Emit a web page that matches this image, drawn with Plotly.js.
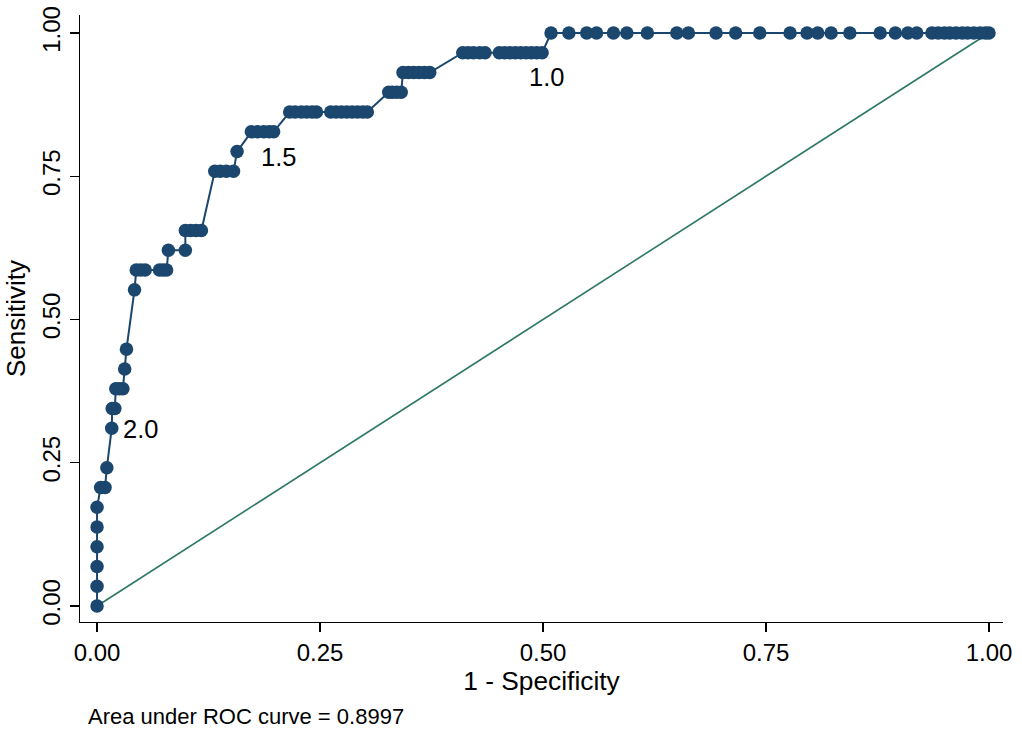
<!DOCTYPE html>
<html>
<head>
<meta charset="utf-8">
<script src="https://cdn.plot.ly/plotly-3.0.1.min.js"></script>
<style>
html,body{margin:0;padding:0;background:#fff;}
#chart{width:1022px;height:730px;}
</style>
</head>
<body>
<div id="chart"></div>
<script>
// 1 - Specificity (false positive rate)
const fpr = [
  0, 0, 0, 0, 0, 0,
  0.004, 0.009,
  0.011,
  0.0165,
  0.017, 0.020,
  0.021, 0.025, 0.029,
  0.031,
  0.033,
  0.042,
  0.044, 0.049, 0.054,
  0.070, 0.074, 0.078,
  0.080, 0.099,
  0.099, 0.105, 0.111, 0.117,
  0.132, 0.138, 0.145, 0.153,
  0.157,
  0.173, 0.180, 0.187, 0.193, 0.198,
  0.216, 0.222, 0.229, 0.235, 0.241, 0.246,
  0.262, 0.268, 0.274, 0.280, 0.286, 0.292, 0.298, 0.303,
  0.327, 0.331, 0.336, 0.341,
  0.343, 0.349, 0.355, 0.361, 0.367, 0.373,
  0.410, 0.416, 0.422, 0.429, 0.435,
  0.451, 0.457, 0.463, 0.469, 0.475, 0.481, 0.487, 0.493, 0.499,
  0.509, 0.529, 0.549, 0.560, 0.579, 0.594, 0.617, 0.650, 0.663, 0.694,
  0.716, 0.743, 0.777, 0.796, 0.808, 0.823, 0.844, 0.878, 0.895, 0.909,
  0.919, 0.936, 0.943, 0.950, 0.956, 0.963, 0.970, 0.976, 0.983, 0.990,
  0.996, 1.0
];
// Sensitivity, as number of true positives out of 29
const tpCount = [
  0, 1, 2, 3, 4, 5,
  6, 6,
  7,
  9,
  10, 10,
  11, 11, 11,
  12,
  13,
  16,
  17, 17, 17,
  17, 17, 17,
  18, 18,
  19, 19, 19, 19,
  22, 22, 22, 22,
  23,
  24, 24, 24, 24, 24,
  25, 25, 25, 25, 25, 25,
  25, 25, 25, 25, 25, 25, 25, 25,
  26, 26, 26, 26,
  27, 27, 27, 27, 27, 27,
  28, 28, 28, 28, 28,
  28, 28, 28, 28, 28, 28, 28, 28, 28,
  29, 29, 29, 29, 29, 29, 29, 29, 29, 29,
  29, 29, 29, 29, 29, 29, 29, 29, 29, 29,
  29, 29, 29, 29, 29, 29, 29, 29, 29, 29,
  29, 29
];
const nPositives = 29;
const sensitivity = tpCount.map(c => c / nPositives);

// cutpoint labels and the ROC point each one belongs to
const cutLabelText = ['2.0', '1.5', '1.0'];
const cutLabelIndex = [9, 39, 77];

// reference (chance) line
const refX = [0, 1];
const refY = [0, 1];

const xTickVals = [0, 0.25, 0.5, 0.75, 1];
const xTickText = ['0.00', '0.25', '0.50', '0.75', '1.00'];
const yTickVals = [0, 0.25, 0.5, 0.75, 1];
const yTickText = ['0.00', '0.25', '0.50', '0.75', '1.00'];

const aucText = 'Area under ROC curve = 0.8997';

const FONT = 'Liberation Sans, Arial, Helvetica, sans-serif';
const NAVY = '#1b476e';
const GREEN = '#2d7767';

// label placement (pixel offsets from the labelled point)
const labelStyle = [
  {xanchor: 'left', yanchor: 'middle', xshift: 9, yshift: -1},
  {xanchor: 'center', yanchor: 'middle', xshift: 5, yshift: -25},
  {xanchor: 'center', yanchor: 'middle', xshift: 4, yshift: -24}
];

const cutAnnotations = cutLabelIndex.map((idx, k) => Object.assign({
  text: cutLabelText[k], x: fpr[idx], y: sensitivity[idx],
  xref: 'x', yref: 'y', showarrow: false,
  font: {family: FONT, size: 25.5, color: '#000'}
}, labelStyle[k]));

const traces = [
  {
    x: refX, y: refY, type: 'scatter', mode: 'lines',
    line: {color: GREEN, width: 1.6},
    hoverinfo: 'skip', showlegend: false
  },
  {
    x: fpr, y: sensitivity, type: 'scatter', mode: 'lines+markers',
    line: {color: NAVY, width: 2},
    marker: {color: NAVY, size: 13.5},
    cliponaxis: false, showlegend: false
  }
];

const layout = {
  width: 1022, height: 730,
  paper_bgcolor: '#fff', plot_bgcolor: '#fff',
  margin: {l: 80, r: 19, t: 15, b: 108},
  font: {family: FONT, color: '#000'},
  showlegend: false,
  xaxis: {
    range: [-0.0191, 1.0157],
    tickvals: xTickVals, ticktext: xTickText,
    ticks: 'outside', ticklen: 9, tickwidth: 1.3, tickcolor: '#000',
    showline: true, linecolor: '#000', linewidth: 1.3,
    showgrid: false, zeroline: false,
    tickfont: {family: FONT, size: 24, color: '#000'},
    title: {text: '1 - Specificity', font: {family: FONT, size: 26.3, color: '#000'}, standoff: 4}
  },
  yaxis: {
    range: [-0.0279, 1.0314],
    tickvals: yTickVals, ticktext: yTickText, tickangle: -90,
    ticks: 'outside', ticklen: 9, tickwidth: 1.3, tickcolor: '#000',
    showline: true, linecolor: '#000', linewidth: 1.3,
    showgrid: false, zeroline: false,
    tickfont: {family: FONT, size: 24, color: '#000'},
    title: {text: 'Sensitivity', font: {family: FONT, size: 26, color: '#000'}, standoff: 5}
  },
  annotations: cutAnnotations.concat([{
    text: aucText, xref: 'paper', yref: 'paper',
    x: 0.0065, y: -0.155, xanchor: 'left', yanchor: 'middle',
    showarrow: false, font: {family: FONT, size: 22, color: '#000'}
  }])
};

Plotly.newPlot('chart', traces, layout, {displayModeBar: false, staticPlot: true});
</script>
</body>
</html>
